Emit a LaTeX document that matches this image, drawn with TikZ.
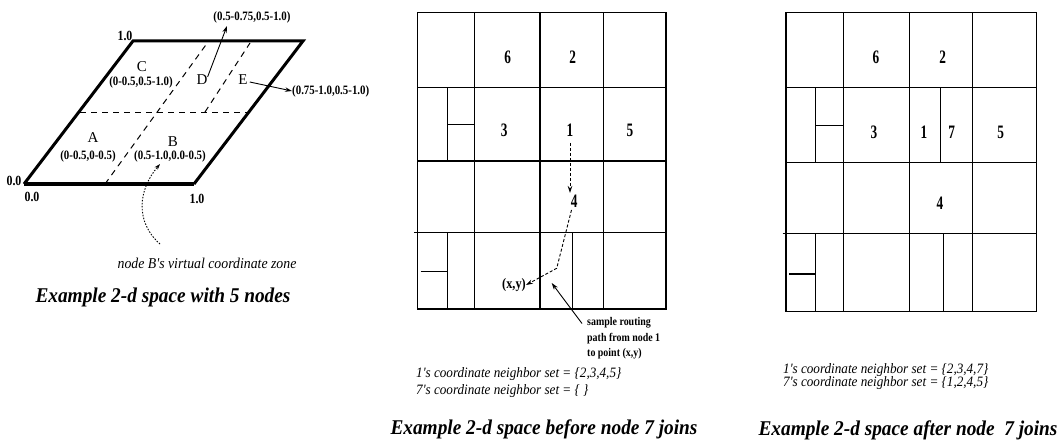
\documentclass[tikz,border=0pt]{standalone}
\usepackage{fontspec}
\setmainfont{Liberation Serif}
\newfontfamily\cnd[FakeStretch=0.85]{Liberation Serif}
\newfontfamily\wid[FakeStretch=0.92]{Liberation Serif}
\newfontfamily\nrw[FakeStretch=0.7]{Liberation Serif}
\usetikzlibrary{arrows.meta}
\begin{document}
\begin{tikzpicture}[x=1pt,y=-1pt,
  grid/.style={line width=1.3pt},
  edge/.style={line width=3pt},
  dsh/.style={line width=1pt, dash pattern=on 6pt off 5pt},
  lbl/.style={inner sep=0pt, font=\cnd\bfseries\fontsize{12.8}{14}\selectfont},
  corner/.style={inner sep=0pt, font=\cnd\bfseries\fontsize{14}{15}\selectfont},
  zone/.style={inner sep=0pt, font=\fontsize{15}{16}\selectfont},
  num/.style={inner sep=0pt, font=\nrw\bfseries\fontsize{19}{20}\selectfont},
  captxt/.style={inner sep=0pt, font=\wid\bfseries\itshape\fontsize{21}{22}\selectfont},
  note/.style={inner sep=0pt, align=left, font=\wid\itshape\fontsize{14.3}{16.7}\selectfont},
  arr/.style={-{Stealth[length=7pt,width=4.5pt]}, line width=0.9pt}
]
\useasboundingbox (0,0) rectangle (1061,441);
% ---------------- left diagram ----------------
\coordinate (P00) at (24,184);
\coordinate (P10) at (194,184);
\coordinate (P01) at (133,41);
\coordinate (P11) at (303,41);
\draw[line width=4.5pt] (P00) -- (P10);
\draw[edge, line join=miter] (P10) -- (P11) -- (P01) -- (P00);
\draw[dsh] (80,113) -- (250,113);
\draw[dsh] (105,184) -- (208,42);
\draw[dsh] (205,112) -- (250,43);
\node[corner] (t10) at (125,36) {1.0};
\node[corner] (l00) at (14,181) {0.0};
\node[corner] (b00) at (32,197) {0.0};
\node[corner] (b10) at (197,199) {1.0};
\node[zone] (C) at (142,67) {C};
\node[lbl] (Cz) at (141,82) {(0-0.5,0.5-1.0)};
\node[zone] (D) at (202,80) {D};
\node[zone] (E) at (243,80) {E};
\node[zone] (A) at (93,138) {A};
\node[lbl] (Az) at (88,156) {(0-0.5,0-0.5)};
\node[zone] (B) at (173,142) {B};
\node[lbl] (Bz) at (170,156) {(0.5-1.0,0.0-0.5)};
\node[lbl] (Dz) at (252,17) {(0.5-0.75,0.5-1.0)};
\node[lbl, anchor=west] (Ez) at (292,91) {(0.75-1.0,0.5-1.0)};
\draw[arr] (D.north east) ++(0,2) -- (227,26);
\draw[arr] (E.east) ++(2,2) -- (Ez.west);
\node[inner sep=0pt, font=\wid\itshape\fontsize{15}{16}\selectfont] (Bnote) at (207,263) {node B's virtual coordinate zone};
\coordinate (Bin) at (160,164);
\draw[-{Stealth[length=6pt,width=4pt]}, line width=0.9pt, dash pattern=on 1.5pt off 1.5pt]
  (160,244) .. controls (135,222) and (138,190) .. (Bin);
\node[captxt] (cap1) at (163,297) {Example 2-d space with 5 nodes};
% ---------------- middle grid ----------------
\draw[grid] (417.7,12.7) rectangle (666,309);
\draw[grid] (417.7,87.7) -- (666,87.7);
\draw[grid] (417.7,161) -- (666,161);
\draw[grid] (414.3,232.3) -- (666,232.3);
\draw[grid] (474.3,12.7) -- (474.3,309);
\draw[grid] (540,12.7) -- (540,309);
\draw[grid] (603.7,12.7) -- (603.7,309);
\draw[grid] (447.7,87.7) -- (447.7,161);
\draw[grid] (447.7,124.3) -- (474.3,124.3);
\draw[grid] (447.7,232.3) -- (447.7,309);
\draw[grid] (572.7,232.3) -- (572.7,309);
\draw[grid] (420.7,271.7) -- (447.7,271.7);
\node[num] (m6) at (507.7,57) {6};
\node[num] (m2) at (572.7,57) {2};
\node[num] (m3) at (504.3,130) {3};
\node[num] (m1) at (570,130) {1};
\node[num] (m5) at (630,130) {5};
\node[num] (m4) at (574.3,201) {4};
\node[inner sep=0pt, font=\cnd\bfseries\fontsize{14.5}{15}\selectfont] (xy) at (514,285) {(x,y)};
\coordinate (turn) at (556.7,268.3);
\draw[arr, dash pattern=on 3pt off 2pt] (570,143) -- (570,193);
\draw[arr, dash pattern=on 3pt off 2pt] (571.5,210) -- (turn) -- (xy.east);
\node[inner sep=0pt, anchor=north west, align=left, font=\cnd\bfseries\fontsize{11.7}{15.5}\selectfont] (route) at (587,317.5) {sample routing\\path from node 1\\to point (x,y)};
\coordinate (rtip) at (551.7,283);
\draw[arr] (route.north west) ++(-5,6) -- (rtip);
\node[note, anchor=west] (ns1) at (416,382.5) {1's coordinate neighbor set = \{2,3,4,5\}\\7's coordinate neighbor set = \{ \}};
\node[captxt] (cap2) at (544,429) {Example 2-d space before node 7 joins};
% ---------------- right grid ----------------
\draw[grid] (786,12.7) rectangle (1036.7,311.7);
\draw[grid] (786,87.7) -- (1036.7,87.7);
\draw[grid] (786,162.7) -- (1036.7,162.7);
\draw[grid] (782.7,233.3) -- (1036.7,233.3);
\draw[grid] (843.3,12.7) -- (843.3,311.7);
\draw[grid] (909.3,12.7) -- (909.3,311.7);
\draw[grid] (972.7,12.7) -- (972.7,311.7);
\draw[grid] (815.7,87.7) -- (815.7,162.7);
\draw[grid] (815.7,125.7) -- (843.3,125.7);
\draw[grid] (940.5,87.7) -- (940.5,162.7);
\draw[grid] (815.7,233.3) -- (815.7,311.7);
\draw[grid] (943.3,233.3) -- (943.3,311.7);
\draw[grid] (789.3,274) -- (815.7,274);
\node[num] (r6) at (876,57) {6};
\node[num] (r2) at (942.7,57) {2};
\node[num] (r3) at (874,132) {3};
\node[num] (r1) at (924,132) {1};
\node[num] (r7) at (951.7,132) {7};
\node[num] (r5) at (1000.7,132) {5};
\node[num] (r4) at (940,203) {4};
\node[note, anchor=west, font=\wid\itshape\fontsize{14.3}{13.5}\selectfont] (ns2) at (783,376.5) {1's coordinate neighbor set = \{2,3,4,7\}\\7's coordinate neighbor set = \{1,2,4,5\}};
\node[captxt] (cap3) at (908,430) {Example 2-d space after node\ \ 7 joins};
\end{tikzpicture}
\end{document}
